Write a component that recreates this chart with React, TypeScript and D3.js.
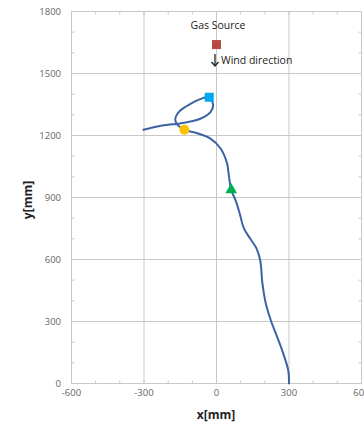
import React from "react";
import * as d3 from "d3";

const pathX = [300, 297, 267, 225, 204, 190, 181, 165, 140, 113, 96, 79, 61, 50, 44, 17, -25, -80, -133, -158, -170, -168, -150, -108, -67, -30, -14, -25, -67, -122, -164, -200, -245, -303];
const pathY = [0, 63, 176, 305, 387, 484, 595, 655, 700, 752, 823, 886, 937, 1016, 1064, 1137, 1185, 1211, 1228, 1248, 1270, 1292, 1321, 1353, 1376, 1385, 1345, 1313, 1281, 1264, 1256, 1252, 1244, 1228];

const xTicks = [-600, -300, 0, 300, 600];
const yTicks = [0, 300, 600, 900, 1200, 1500, 1800];
const minorX = d3.range(-600, 601, 100);
const minorY = d3.range(0, 1801, 100);

const gasSource = { x: 0, y: 1640 };
const circleMark = { x: -133, y: 1228 };
const squareMark = { x: -30, y: 1385 };
const triangleMark = { x: 61, y: 937 };

export default function App() {
  const x = d3.scaleLinear().domain([-600, 600]).range([71.5, 361.5]);
  const y = d3.scaleLinear().domain([0, 1800]).range([383.5, 11.5]);
  const pts: [number, number][] = pathX.map((v, i) => [x(v), y(pathY[i])]);
  const line = d3.line().curve(d3.curveCatmullRom.alpha(0.5))(pts) || "";
  const font = "'Open Sans', 'Noto Sans', sans-serif";
  const grid = "#c8c8c8";
  const tri = d3.symbol(d3.symbolTriangle, 60)() || "";
  const ax = 215;
  return (
    <svg width={364} height={426} style={{ position: "absolute", left: 0, top: 0, background: "#fff" }}>
      <rect x={0} y={0} width={364} height={426} fill="#fff" />
      {xTicks.map((t) => (
        <line key={"gx" + t} x1={x(t)} x2={x(t)} y1={y(0)} y2={y(1800)} stroke={grid} strokeWidth={1} />
      ))}
      {yTicks.map((t) => (
        <line key={"gy" + t} x1={x(-600)} x2={x(600)} y1={y(t)} y2={y(t)} stroke={grid} strokeWidth={1} />
      ))}
      {minorX.map((t) => (
        <g key={"mx" + t}>
          <line x1={x(t)} x2={x(t)} y1={y(0)} y2={y(0) - 3} stroke={grid} />
          <line x1={x(t)} x2={x(t)} y1={y(1800)} y2={y(1800) + 3} stroke={grid} />
        </g>
      ))}
      {minorY.map((t) => (
        <g key={"my" + t}>
          <line x1={x(-600)} x2={x(-600) + 3} y1={y(t)} y2={y(t)} stroke={grid} />
          <line x1={x(600)} x2={x(600) - 3} y1={y(t)} y2={y(t)} stroke={grid} />
        </g>
      ))}
      {xTicks.map((t) => (
        <text key={"tx" + t} x={x(t)} y={396} textAnchor="middle" fontFamily={font} fontSize={9.5} fill="#666">
          {t}
        </text>
      ))}
      {yTicks.map((t) => (
        <text key={"ty" + t} x={61} y={y(t) + 3.5} textAnchor="end" fontFamily={font} fontSize={9.5} fill="#666">
          {t}
        </text>
      ))}
      <text x={216} y={419} textAnchor="middle" fontFamily={font} fontSize={12} fontWeight="bold" fill="#222">
        x[mm]
      </text>
      <text transform={`translate(32,200) rotate(-90)`} textAnchor="middle" fontFamily={font} fontSize={12} fontWeight="bold" fill="#222">
        y[mm]
      </text>
      <path d={line} fill="none" stroke="#3d63a3" strokeWidth={2} strokeLinejoin="round" strokeLinecap="round" />
      <rect x={x(gasSource.x) - 4.5} y={y(gasSource.y) - 4.5} width={9} height={9} fill="#b84a44" />
      <text x={218} y={29} textAnchor="middle" fontFamily={font} fontSize={10.5} fill="#222">
        Gas Source
      </text>
      <g stroke="#222" strokeWidth={1.3} fill="none">
        <line x1={ax} x2={ax} y1={54} y2={66} />
        <polyline points={`${ax - 3.5},${62} ${ax},${66} ${ax + 3.5},${62}`} />
      </g>
      <text x={221} y={64} fontFamily={font} fontSize={10.5} fill="#222">
        Wind direction
      </text>
      <circle cx={x(circleMark.x)} cy={y(circleMark.y)} r={5} fill="#ffc000" />
      <rect x={x(squareMark.x) - 4.5} y={y(squareMark.y) - 4.5} width={9} height={9} fill="#00a8f0" />
      <path d={tri} transform={`translate(${x(triangleMark.x)},${y(triangleMark.y)})`} fill="#00b050" />
    </svg>
  );
}
